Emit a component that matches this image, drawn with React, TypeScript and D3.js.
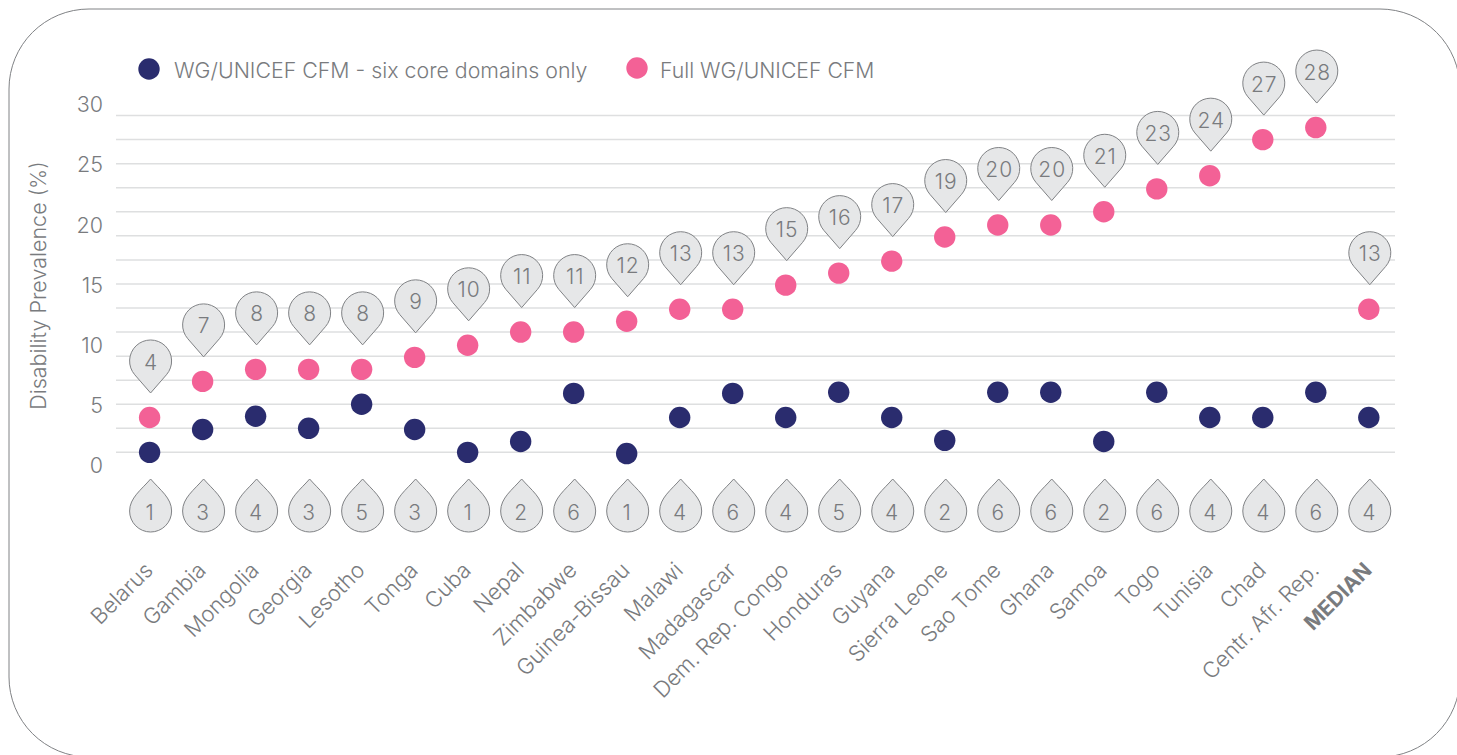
import React from "react";
import * as d3 from "d3";

const categories = ["Belarus","Gambia","Mongolia","Georgia","Lesotho","Tonga","Cuba","Nepal","Zimbabwe","Guinea-Bissau","Malawi","Madagascar","Dem. Rep. Congo","Honduras","Guyana","Sierra Leone","Sao Tome","Ghana","Samoa","Togo","Tunisia","Chad","Centr. Afr. Rep.","MEDIAN"];
const coreValues = [1.0,2.9,4.0,3.0,5.0,2.9,1.0,1.9,5.9,0.9,3.9,5.9,3.9,6.0,3.9,2.0,6.0,6.0,1.9,6.0,3.9,3.9,6.0,3.9];
const fullValues = [3.9,6.9,7.9,7.9,7.9,8.9,9.9,11.0,11.0,11.9,12.9,12.9,14.9,15.9,16.9,18.9,19.9,19.9,21.0,22.9,24.0,27.0,28.0,12.9];
const coreLabels = [1,3,4,3,5,3,1,2,6,1,4,6,4,5,4,2,6,6,2,6,4,4,6,4];
const fullLabels = [4,7,8,8,8,9,10,11,11,12,13,13,15,16,17,19,20,20,21,23,24,27,28,13];
const yTicks = [0,5,10,15,20,25,30];
const gridValues = [1,3,5,7,9,11,13,15,17,19,21,23,25,27,29];
const legendItems = ["WG/UNICEF CFM - six core domains only","Full WG/UNICEF CFM"];

const W = 1457, H = 755;
const FONT = "Inter, 'Noto Sans', sans-serif";
const GREY = "#808285", TEXT = "#797B7E", BLUE = "#2A2C6E", PINK = "#F36196", PIN = "#E6E7E8", GRID = "#DEDFE0";

const x = d3.scalePoint<string>().domain(categories).range([149.6, 1368.8]);
const y = d3.scaleLinear().domain([0, 30]).range([464.4, 103.5]);

const R = 21, D = 32;
function pinDown() {
  const a = Math.acos(R / D);
  const s = Math.PI / 2;
  const p = d3.path();
  p.moveTo(0, 0);
  p.lineTo(R * Math.cos(s - a), -D + R * Math.sin(s - a));
  p.arc(0, -D, R, s - a, s + a - 2 * Math.PI, true);
  p.closePath();
  return p.toString();
}
function pinUp() {
  const p = d3.path();
  p.moveTo(0, 0);
  p.bezierCurveTo(R * 0.45, R * 0.52, R, D - R * 0.62, R, D);
  p.arc(0, D, R, 0, Math.PI);
  p.bezierCurveTo(-R, D - R * 0.62, -R * 0.45, R * 0.52, 0, 0);
  p.closePath();
  return p.toString();
}

function Pin({ cx, tip, up, label }: { cx: number; tip: number; up: boolean; label: number }) {
  return (
    <g transform={`translate(${cx + 1},${tip})`}>
      <path d={up ? pinUp() : pinDown()} fill={PIN} stroke={GREY} strokeWidth={1} />
      <text x={up ? -0.5 : 0.5} y={up ? D + 1 : -D + 1} dy="0.36em" textAnchor="middle" fontSize={21} fontWeight={300} fill={TEXT} style={{ letterSpacing: "1px" }}>{label}</text>
    </g>
  );
}

export default function App() {
  return (
    <svg width={W} height={H} viewBox={`0 0 ${W} ${H}`} style={{ position: "absolute", left: 0, top: 0, background: "#fff" }} fontFamily={FONT}>
      <rect x={9} y={9} width={1451} height={748} rx={80} ry={80} fill="#fff" stroke={GREY} strokeWidth={1} />
      {gridValues.map(v => (
        <line key={v} x1={116} x2={1395} y1={y(v)} y2={y(v)} stroke={GRID} strokeWidth={1.5} />
      ))}
      {yTicks.map(t => (
        <text key={t} x={103} y={y(t) + 1} dy="0.36em" textAnchor="end" fontSize={21.5} fontWeight={300} fill={TEXT}>{t}</text>
      ))}
      <text transform="translate(38,285.5) rotate(-90)" dy="0.36em" textAnchor="middle" fontSize={21.5} fontWeight={300} fill={TEXT}>Disability Prevalence (%)</text>

      <circle cx={149} cy={69} r={10.7} fill={BLUE} />
      <text x={174} y={70.5} dy="0.36em" fontSize={21.35} fontWeight={300} fill={TEXT}>{legendItems[0]}</text>
      <circle cx={637} cy={68} r={10.7} fill={PINK} />
      <text x={660} y={70.5} dy="0.36em" fontSize={21.2} fontWeight={300} fill={TEXT}>{legendItems[1]}</text>

      {categories.map((c, i) => (
        <g key={c}>
          <circle cx={x(c)!} cy={y(coreValues[i])} r={10.7} fill={BLUE} />
          <circle cx={x(c)!} cy={y(fullValues[i])} r={10.7} fill={PINK} />
          <Pin cx={x(c)!} tip={y(fullValues[i]) - 24.5} up={false} label={fullLabels[i]} />
          <Pin cx={x(c)!} tip={479} up={true} label={coreLabels[i]} />
          <text transform={`translate(${x(c)! - 1},${566}) rotate(-45)`} textAnchor="end" dy="0.36em" fontSize={c === "MEDIAN" ? 21 : 22} fontWeight={c === "MEDIAN" ? 700 : 300} fill={TEXT}>{c}</text>
        </g>
      ))}
    </svg>
  );
}
